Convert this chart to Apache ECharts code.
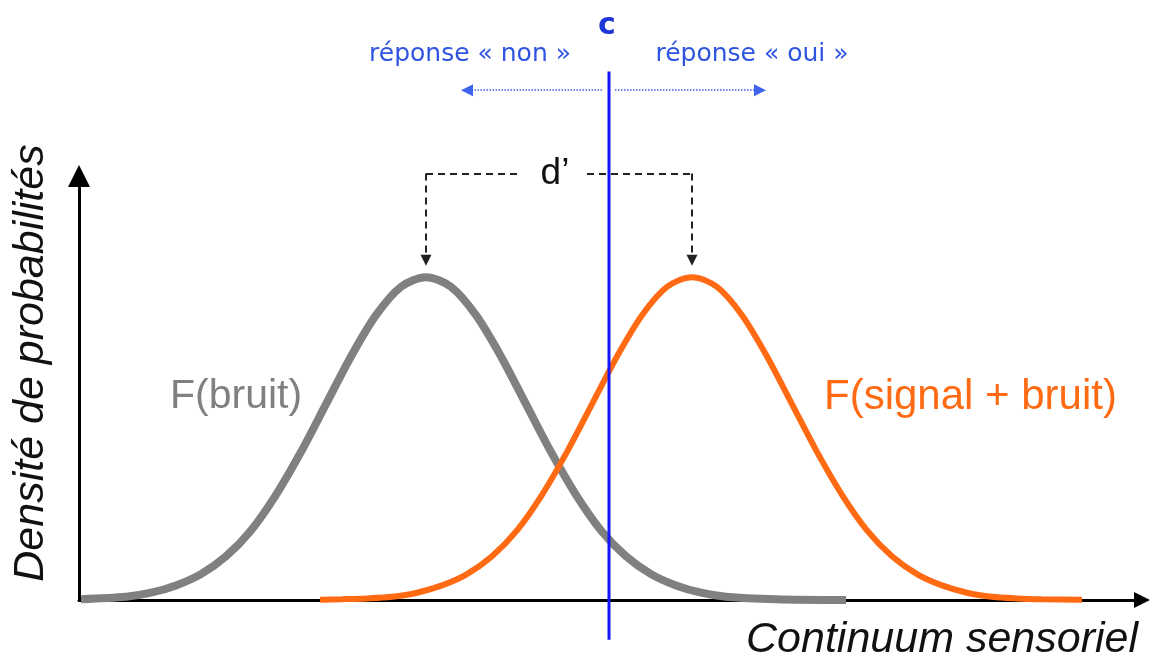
<!DOCTYPE html>
<html>
<head>
<meta charset="utf-8">
<script src="https://cdn.jsdelivr.net/npm/echarts@6/dist/echarts.min.js"></script>
<style>
  html, body { margin: 0; padding: 0; background: #fff; }
  #chart { width: 1150px; height: 659px; }
</style>
</head>
<body>
<div id="chart"></div>
<script>
  // valeurs (x : continuum, 0 = moyenne du bruit)
  const bruitX = [-3.45, -3.0, -2.75, -2.5, -2.25, -2.0, -1.75, -1.5, -1.25, -1.0, -0.75, -0.5, -0.25, 0,
    0.25, 0.5, 0.75, 1.0, 1.25, 1.5, 1.75, 2.0, 2.25, 2.5, 2.75, 3.0, 3.5, 4.2]
  const bruitY = [0.001, 0.004, 0.009, 0.018, 0.032, 0.054, 0.086, 0.130, 0.183, 0.242, 0.301, 0.352, 0.387, 0.399,
    0.387, 0.352, 0.301, 0.242, 0.183, 0.130, 0.086, 0.054, 0.032, 0.018, 0.009, 0.004, 0.001, 0]

  const signalX = [-1.06, -0.84, -0.59, -0.34, -0.09, 0.16, 0.41, 0.66, 0.91, 1.16, 1.41, 1.66, 1.91, 2.16, 2.41, 2.66,
    2.91, 3.16, 3.41, 3.66, 3.91, 4.16, 4.41, 4.66, 4.91, 5.16, 5.41, 5.66, 5.91, 6.16, 6.56]
  const signalY = [0.0004, 0.001, 0.002, 0.004, 0.009, 0.018, 0.032, 0.054, 0.086, 0.130, 0.183, 0.242, 0.301, 0.352, 0.387, 0.399,
    0.387, 0.352, 0.301, 0.242, 0.183, 0.130, 0.086, 0.054, 0.032, 0.018, 0.009, 0.004, 0.002, 0.001, 0.0002]

  const critere = 1.83        // c
  const moyBruit = 0
  const moySignal = 2.66      // d'

  const chart = echarts.init(document.getElementById('chart'))

  const pairs = (xs, ys) => xs.map((x, i) => [x, ys[i]])

  chart.setOption({
    animation: false,
    grid: { left: 79, right: 8, top: 176, bottom: 59 },
    xAxis: {
      type: 'value',
      min: -3.47,
      max: 7.16,
      axisLine: {
        show: true,
        onZero: false,
        symbol: ['none', 'triangle'],
        symbolSize: [16, 16],
        lineStyle: { color: '#000', width: 3 }
      },
      axisTick: { show: false },
      axisLabel: { show: false },
      splitLine: { show: false }
    },
    yAxis: {
      type: 'value',
      min: 0,
      max: 0.524,
      axisLine: {
        show: true,
        onZero: false,
        symbol: ['none', 'triangle'],
        symbolSize: [22, 22],
        lineStyle: { color: '#000', width: 3 }
      },
      axisTick: { show: false },
      axisLabel: { show: false },
      splitLine: { show: false }
    },
    series: [
      {
        name: 'F(bruit)',
        type: 'line',
        smooth: 0.3,
        symbol: 'none',
        lineStyle: { color: '#808080', width: 8 },
        data: pairs(bruitX, bruitY),
        z: 3
      },
      {
        name: 'F(signal + bruit)',
        type: 'line',
        smooth: 0.3,
        symbol: 'none',
        lineStyle: { color: '#ff6a13', width: 6 },
        data: pairs(signalX, signalY),
        z: 4
      },
      {
        // critère c
        name: 'c',
        type: 'line',
        symbol: 'none',
        clip: false,
        lineStyle: { color: '#1515ff', width: 3 },
        data: [[critere, -0.049], [critere, 0.653]],
        z: 6
      },
      {
        // réponses « non » / « oui »
        type: 'lines',
        coordinateSystem: 'cartesian2d',
        clip: false,
        symbol: ['none', 'triangle'],
        symbolSize: 12,
        lineStyle: { color: '#3f63ee', width: 1.5, type: 'dotted', opacity: 1, curveness: 0 },
        data: [
          { coords: [[1.76, 0.630], [0.41, 0.630]] },
          { coords: [[1.89, 0.630], [3.34, 0.630]] }
        ],
        z: 5
      },
      {
        // d' : traits horizontaux
        type: 'lines',
        coordinateSystem: 'cartesian2d',
        clip: false,
        symbol: 'none',
        lineStyle: { color: '#222', width: 2, type: [7, 5], opacity: 1 },
        data: [
          { coords: [[0.91, 0.527], [moyBruit, 0.527]] },
          { coords: [[1.61, 0.527], [moySignal, 0.527]] }
        ],
        z: 5
      },
      {
        // d' : flèches vers les sommets
        type: 'lines',
        coordinateSystem: 'cartesian2d',
        clip: false,
        symbol: ['none', 'triangle'],
        symbolSize: 11,
        lineStyle: { color: '#222', width: 2, type: [7, 5], opacity: 1 },
        data: [
          { coords: [[moyBruit, 0.527], [moyBruit, 0.42]] },
          { coords: [[moySignal, 0.527], [moySignal, 0.42]] }
        ],
        z: 5
      }
    ],
    graphic: [
      {
        type: 'text', x: 607, y: 26,
        style: { text: 'c', fontSize: 30, fontWeight: 'bold', fontFamily: 'DejaVu Sans', fill: '#1b35d6', align: 'center', verticalAlign: 'middle' }
      },
      {
        type: 'text', x: 470, y: 54,
        style: { text: 'réponse « non »', fontSize: 25, fontFamily: 'DejaVu Sans', fill: '#2f55e0', align: 'center', verticalAlign: 'middle' }
      },
      {
        type: 'text', x: 752, y: 54,
        style: { text: 'réponse « oui »', fontSize: 25, fontFamily: 'DejaVu Sans', fill: '#2f55e0', align: 'center', verticalAlign: 'middle' }
      },
      {
        type: 'text', x: 555, y: 174,
        style: { text: 'd’', fontSize: 37, fontFamily: 'Liberation Sans', fill: '#111', align: 'center', verticalAlign: 'middle' }
      },
      {
        type: 'text', x: 170, y: 397,
        style: { text: 'F(bruit)', fontSize: 41, fontFamily: 'Liberation Sans', fill: '#808080', align: 'left', verticalAlign: 'middle' }
      },
      {
        type: 'text', x: 824, y: 397,
        style: { text: 'F(signal + bruit)', fontSize: 42, fontFamily: 'Liberation Sans', fill: '#ff6a13', align: 'left', verticalAlign: 'middle' }
      },
      {
        type: 'text', x: 31, y: 363, rotation: Math.PI / 2,
        style: { text: 'Densité de probabilités', fontSize: 43, fontStyle: 'italic', fontFamily: 'Liberation Sans', fill: '#111', align: 'center', verticalAlign: 'middle' }
      },
      {
        type: 'text', x: 1138, y: 640,
        style: { text: 'Continuum sensoriel', fontSize: 43, fontStyle: 'italic', fontFamily: 'Liberation Sans', fill: '#111', align: 'right', verticalAlign: 'middle' }
      }
    ]
  })

  window.addEventListener('resize', () => {
    chart.resize()
  })
</script>
</body>
</html>
